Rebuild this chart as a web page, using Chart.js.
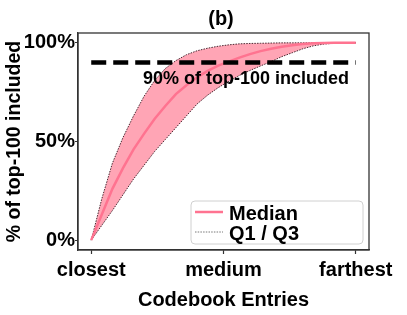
<!DOCTYPE html>
<html>
<head>
<meta charset="utf-8">
<script src="https://cdn.jsdelivr.net/npm/chart.js@4"></script>
<style>
  html, body { margin: 0; padding: 0; background: #fff; }
  #wrap { width: 407px; height: 315px; }
</style>
</head>
<body>
<div id="wrap"><canvas id="chart" width="407" height="315"></canvas></div>
<script>
// position along the codebook (0 = closest, 1 = farthest)
const posicion = [0, 0.04, 0.08, 0.12, 0.16, 0.2, 0.24, 0.28, 0.32, 0.36, 0.4, 0.44, 0.48,
    0.52, 0.56, 0.6, 0.64, 0.68, 0.72, 0.76, 0.8, 0.84, 0.88, 0.92, 0.96, 1];
const mediana = [0, 13, 26, 36.5, 46, 54, 61.5, 68, 74, 78.5, 82.5, 85.8, 88.5,
    90.5, 92.5, 94.3, 95.8, 97, 98, 98.8, 99.4, 99.8, 99.9, 100, 100, 100];
const cuartil3 = [0, 21, 39, 52, 63, 73, 81, 87, 91, 94, 96, 97.3, 98.3,
    99, 99.5, 99.7, 99.8, 99.9, 100, 100, 100, 100, 100, 100, 100, 100];
const cuartil1 = [0, 7.5, 15, 23, 31, 38, 45, 51, 57, 63, 69, 73.5, 77.3,
    80.5, 83.5, 86, 88.3, 90.5, 93, 95, 97, 98.5, 99.4, 99.8, 100, 100];
const umbral = 90;
const xTicks = [0, 0.5, 1];
const xLabels = ["closest", "medium", "farthest"];
const yTicks = [0, 50, 100];

const FONT = "'Liberation Sans', Arial, Helvetica, sans-serif";
const ROSA = "#ff7390";
const ROSA_FILL = "#ffa5b5";
const BORDE = "rgba(40, 10, 20, 0.95)";

const puntos = (ys) => posicion.map((x, i) => ({ x: x, y: ys[i] }));

// frame, title, annotation and legend
const extras = {
    id: "extras",
    afterDraw(chart) {
        const ctx = chart.ctx;
        const a = chart.chartArea;
        ctx.save();
        ctx.strokeStyle = "#333";
        ctx.lineWidth = 1.3;
        ctx.strokeRect(a.left, a.top, a.right - a.left, a.bottom - a.top);

        ctx.fillStyle = "#000";
        ctx.textAlign = "center";
        ctx.textBaseline = "middle";
        ctx.font = "bold 20px " + FONT;
        ctx.fillText("(b)", 221, 19);

        ctx.font = "bold 18px " + FONT;
        ctx.fillText("90% of top-100 included", 246, 79);

        // legend
        const lx = 191, ly = 201, lw = 172, lh = 43;
        ctx.beginPath();
        ctx.roundRect(lx, ly, lw, lh, 4);
        ctx.fillStyle = "rgba(255,255,255,0.85)";
        ctx.fill();
        ctx.strokeStyle = "#d0d0d0";
        ctx.lineWidth = 1;
        ctx.stroke();

        ctx.beginPath();
        ctx.strokeStyle = ROSA;
        ctx.lineWidth = 2.5;
        ctx.moveTo(195, 212);
        ctx.lineTo(223, 212);
        ctx.stroke();

        ctx.beginPath();
        ctx.strokeStyle = "#555";
        ctx.lineWidth = 0.8;
        ctx.setLineDash([1.5, 1.2]);
        ctx.moveTo(195, 232);
        ctx.lineTo(223, 232);
        ctx.stroke();
        ctx.setLineDash([]);

        ctx.fillStyle = "#000";
        ctx.textAlign = "left";
        ctx.font = "bold 20px " + FONT;
        ctx.fillText("Median", 229, 214);
        ctx.fillText("Q1 / Q3", 229, 234);
        ctx.restore();
    }
};

const ctx = document.getElementById("chart").getContext("2d");
new Chart(ctx, {
    type: "line",
    data: {
        datasets: [
            {
                label: "90%",
                data: [{ x: 0, y: umbral }, { x: 1, y: umbral }],
                borderColor: "#000",
                borderWidth: 4.5,
                borderDash: [15, 7],
                pointRadius: 0,
                fill: false,
            },
            {
                label: "Median",
                data: puntos(mediana),
                borderColor: ROSA,
                borderWidth: 2.5,
                pointRadius: 0,
                fill: false,
            },
            {
                label: "Q3",
                data: puntos(cuartil3),
                borderColor: BORDE,
                borderWidth: 0.9,
                borderDash: [1.5, 1.2],
                backgroundColor: ROSA_FILL,
                pointRadius: 0,
                fill: "+1",
            },
            {
                label: "Q1",
                data: puntos(cuartil1),
                borderColor: BORDE,
                borderWidth: 0.9,
                borderDash: [1.5, 1.2],
                pointRadius: 0,
                fill: false,
            },
        ],
    },
    options: {
        responsive: false,
        animation: false,
        layout: { padding: { top: 33, right: 38, left: 0, bottom: 0 } },
        plugins: {
            legend: { display: false },
            tooltip: { enabled: false },
            filler: { drawTime: "beforeDatasetsDraw" },
        },
        scales: {
            x: {
                type: "linear",
                min: -0.05,
                max: 1.05,
                afterBuildTicks: (s) => { s.ticks = xTicks.map((v) => ({ value: v })); },
                afterFit: (s) => { s.height = 65; },
                ticks: {
                    autoSkip: false,
                    maxRotation: 0,
                    padding: 4,
                    color: "#000",
                    font: { family: FONT, size: 20, weight: "bold" },
                    callback: (v) => xLabels[xTicks.indexOf(v)],
                },
                grid: { drawOnChartArea: false, tickLength: 4, color: "#333", tickWidth: 1.2 },
                border: { color: "#333", width: 1.3 },
                title: {
                    display: true,
                    text: "Codebook Entries",
                    color: "#000",
                    font: { family: FONT, size: 20, weight: "bold" },
                    padding: { top: 0, bottom: 2.5 },
                },
            },
            y: {
                min: -5,
                max: 105,
                afterBuildTicks: (s) => { s.ticks = yTicks.map((v) => ({ value: v })); },
                afterFit: (s) => { s.width = 78; },
                ticks: {
                    padding: 0,
                    color: "#000",
                    font: { family: FONT, size: 20, weight: "bold" },
                    callback: (v) => v + "%",
                },
                grid: { drawOnChartArea: false, tickLength: 3, color: "#333", tickWidth: 1.2 },
                border: { color: "#333", width: 1.3 },
                title: {
                    display: true,
                    text: "% of top-100 included",
                    color: "#000",
                    font: { family: FONT, size: 19.5, weight: "bold" },
                    padding: { top: 3, bottom: 0 },
                },
            },
        },
    },
    plugins: [extras],
});
</script>
</body>
</html>
